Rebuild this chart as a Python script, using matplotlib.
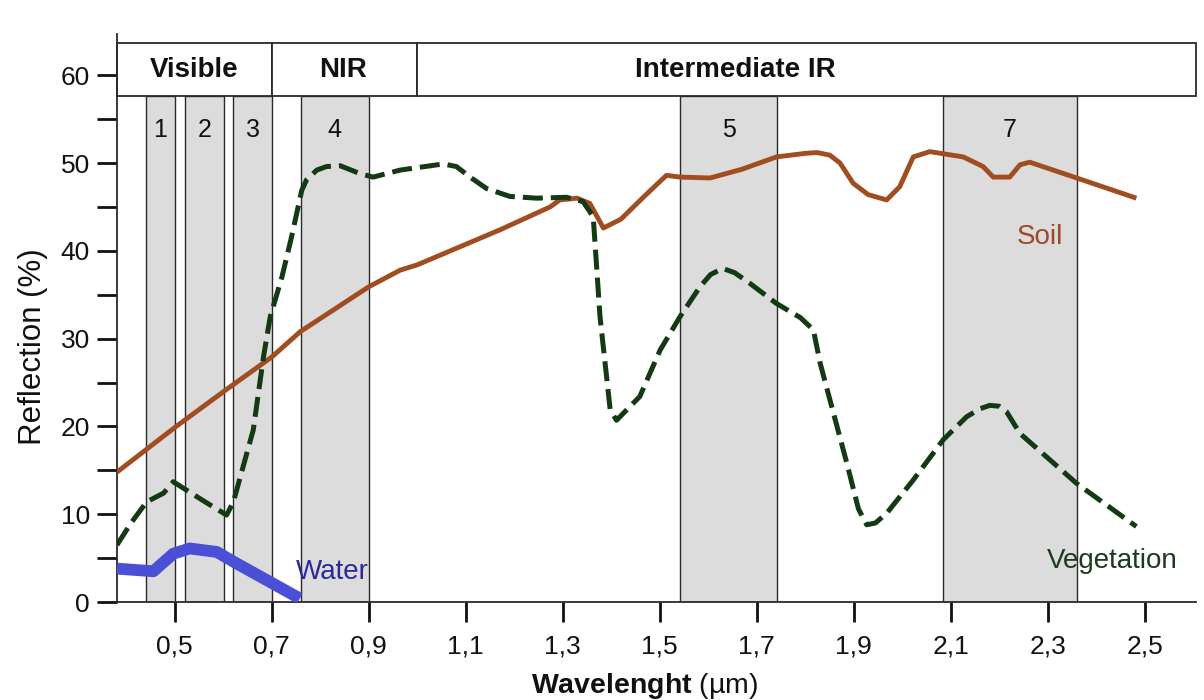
import matplotlib
matplotlib.use("Agg")
import matplotlib.pyplot as plt
from matplotlib.patches import Rectangle

plt.rcParams['font.family'] = ['Liberation Sans', 'DejaVu Sans']
plt.rcParams['mathtext.fontset'] = 'custom'
plt.rcParams['mathtext.rm'] = 'Liberation Sans'
plt.rcParams['mathtext.bf'] = 'Liberation Sans:bold'

# ---------------- data ----------------
soil_x = [0.381, 0.503, 0.604, 0.70, 0.759, 0.90, 0.965, 1.0, 1.171, 1.274, 1.294,
          1.33, 1.356, 1.37, 1.384, 1.42, 1.47, 1.514, 1.542, 1.604, 1.67, 1.741,
          1.80, 1.824, 1.851, 1.872, 1.899, 1.93, 1.968, 1.995, 2.023, 2.057,
          2.126, 2.167, 2.188, 2.222, 2.243, 2.263, 2.36, 2.483]
soil_y = [14.8, 20.0, 24.1, 27.9, 30.8, 35.9, 37.8, 38.4, 42.4, 45.0, 45.8,
          46.0, 45.4, 44.0, 42.6, 43.6, 46.3, 48.6, 48.4, 48.3, 49.3, 50.7,
          51.1, 51.2, 50.9, 50.0, 47.7, 46.4, 45.8, 47.3, 50.7, 51.3,
          50.7, 49.6, 48.4, 48.4, 49.8, 50.1, 48.3, 46.0]

veg_x = [0.381, 0.41, 0.442, 0.477, 0.497, 0.514, 0.56, 0.607, 0.621, 0.628,
         0.662, 0.683, 0.697, 0.721, 0.741, 0.762, 0.772, 0.793, 0.813, 0.841,
         0.882, 0.909, 0.965, 1.054, 1.081, 1.109, 1.143, 1.191, 1.246, 1.308,
         1.342, 1.363, 1.377, 1.398, 1.411, 1.459, 1.501, 1.542, 1.583, 1.605,
         1.63, 1.655, 1.686, 1.741, 1.79, 1.817, 1.831, 1.886, 1.91, 1.927,
         1.945, 1.968, 2.023, 2.085, 2.133, 2.16, 2.181, 2.20, 2.215, 2.243,
         2.36, 2.483]
veg_y = [6.5, 9.0, 11.4, 12.4, 13.7, 13.1, 11.5, 9.9, 11.4, 12.8,
         19.6, 27.9, 32.5, 37.0, 41.6, 46.9, 48.1, 49.2, 49.6, 49.7,
         48.8, 48.4, 49.2, 49.9, 49.6, 48.4, 47.1, 46.2, 46.0, 46.1,
         45.6, 43.9, 32.5, 21.9, 20.7, 23.4, 28.7, 32.5, 35.9, 37.3,
         38.0, 37.5, 36.3, 34.0, 32.4, 31.0, 27.2, 15.8, 10.6, 8.8,
         9.0, 10.1, 13.9, 18.5, 21.1, 22.0, 22.4, 22.3, 21.7, 19.2,
         13.5, 8.6]

water_x = [0.381, 0.456, 0.497, 0.531, 0.587, 0.621, 0.758]
water_y = [3.8, 3.5, 5.5, 6.1, 5.7, 4.6, 0.4]

band_names = ['1', '2', '3', '4', '5', '7']
band_lo = [0.441, 0.521, 0.621, 0.760, 1.542, 2.084]
band_hi = [0.500, 0.602, 0.700, 0.900, 1.742, 2.361]

region_names = ['Visible', 'NIR', 'Intermediate IR']
region_lo = [0.381, 0.700, 1.000]
region_hi = [0.700, 1.000, 2.606]
region_label_x = [0.54, 0.848, 1.656]

xtick_vals = [0.5, 0.7, 0.9, 1.1, 1.3, 1.5, 1.7, 1.9, 2.1, 2.3, 2.5]
xtick_labels = ['0,5', '0,7', '0,9', '1,1', '1,3', '1,5', '1,7', '1,9', '2,1', '2,3', '2,5']
ytick_major = [0, 10, 20, 30, 40, 50, 60]
ytick_minor = [5, 15, 25, 35, 45, 55]

# ---------------- figure ----------------
fig = plt.figure(figsize=(12.04, 7.0), dpi=100)
ax = fig.add_axes([117 / 1204, 98 / 700, 1079 / 1204, 568 / 700])
ax.set_xlim(0.381, 2.606)
ax.set_ylim(0, 64.7)

box_lo, box_hi = 57.6, 63.7
edge = '#2a2a2a'

# spectral bands
for name, lo, hi in zip(band_names, band_lo, band_hi):
    ax.add_patch(Rectangle((lo, 0), hi - lo, box_lo, facecolor='#dcdcdc',
                           edgecolor=edge, linewidth=1.0, zorder=1))
    ax.text((lo + hi) / 2, 53.8, name, ha='center', va='center', fontsize=18,
            color='#111111', zorder=5)

# header regions
for name, lo, hi, lx in zip(region_names, region_lo, region_hi, region_label_x):
    ax.add_patch(Rectangle((lo, box_lo), hi - lo, box_hi - box_lo, facecolor='white',
                           edgecolor=edge, linewidth=1.3, zorder=2, clip_on=False))
    ax.text(lx, (box_lo + box_hi) / 2, name, ha='center', va='center', fontsize=20,
            fontweight='bold', color='#111111', zorder=5)

# curves
ax.plot(soil_x, soil_y, color='#a14d22', linewidth=3.5, zorder=3,
        solid_capstyle='butt', solid_joinstyle='round')
ax.plot(veg_x, veg_y, color='#143a14', linewidth=3.6, zorder=4,
        linestyle=(0, (4, 1.6)), dash_capstyle='butt', dash_joinstyle='round')
ax.plot(water_x, water_y, color='#4a4fd6', linewidth=8.5, zorder=4,
        solid_capstyle='butt', solid_joinstyle='round')

# labels on curves
ax.text(2.285, 41.6, 'Soil', ha='center', va='center', fontsize=20, color='#9b4a2a', zorder=5)
ax.text(2.433, 4.7, 'Vegetation', ha='center', va='center', fontsize=20, color='#1c3d1c', zorder=5)
ax.text(0.75, 3.4, 'Water', ha='left', va='center', fontsize=20, color='#2a2a9a', zorder=5)

# axes styling
for s in ['top', 'right']:
    ax.spines[s].set_visible(False)
for s in ['left', 'bottom']:
    ax.spines[s].set_linewidth(1.3)
    ax.spines[s].set_color(edge)

ax.set_xticks(xtick_vals)
ax.set_xticklabels(xtick_labels)
ax.set_yticks(ytick_major)
ax.set_yticks(ytick_minor, minor=True)
ax.tick_params(axis='both', which='both', direction='out', length=14.5, width=2.0,
               color='#111111', labelsize=19, labelcolor='#111111')
ax.tick_params(axis='x', pad=9)
ax.tick_params(axis='y', pad=5)

ax.set_ylabel('Reflection (%)', fontsize=22.5, color='#111111')
ax.yaxis.set_label_coords(-0.064, 0.45)
ax.set_xlabel(r'$\mathbf{Wavelenght}$' + ' (µm)', fontsize=20.5, color='#111111')
ax.xaxis.set_label_coords(0.489, -0.121)

fig.savefig('out.png', dpi=100, facecolor='white')
